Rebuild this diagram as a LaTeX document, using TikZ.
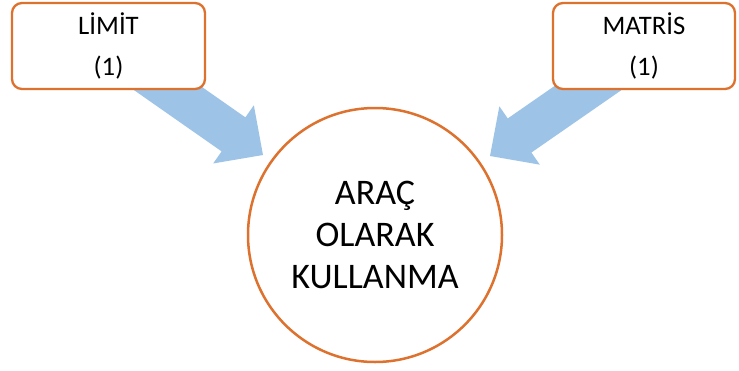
\documentclass[tikz,border=0pt]{standalone}
\usepackage{fontspec}
\setmainfont{Carlito}
\usetikzlibrary{calc,backgrounds}
\definecolor{edgeorange}{RGB}{221,113,46}
\definecolor{arrowblue}{RGB}{157,195,230}

% Block arrow from #1 to #2: shaft half-width #3, head half-width #4, head length #5
\newcommand{\blockarr}[5]{%
  \coordinate (ba-base) at ($(#2)!#5!(#1)$);
  \fill[arrowblue]
    ($(#1)!#3!90:(#2)$) -- ($(ba-base)!#3!-90:(#1)$) --
    ($(ba-base)!#4!-90:(#1)$) -- (#2) --
    ($(ba-base)!#4!90:(#1)$) -- ($(ba-base)!#3!90:(#1)$) --
    ($(#1)!#3!-90:(#2)$) -- cycle;
}

\tikzset{
  topicbox/.style={draw=edgeorange, line width=2.3pt, fill=white,
    rounded corners=10pt, minimum height=86pt, align=center,
    font=\fontsize{26.7}{41}\selectfont, inner sep=0pt},
  goal/.style={draw=edgeorange, line width=2.5pt, fill=white, circle,
    minimum size=254pt, align=center, inner sep=0pt,
    font=\fontsize{36}{42}\selectfont},
}

\begin{document}
\begin{tikzpicture}[x=1pt, y=-1pt]
  \useasboundingbox (0,0) rectangle (739,370);

  \node[topicbox, minimum width=193pt] (limit) at (108.5,46) {LİMİT\\(1)};
  \node[topicbox, minimum width=182pt] (matris) at (644,46) {MATRİS\\(1)};
  \node[goal] (arac) at (375,235) {ARAÇ\\OLARAK\\KULLANMA};

  % Arrow ends: start hidden under the boxes, tips short of the circle
  \coordinate (limit-out) at (135,65.5);
  \coordinate (limit-tip) at (263,155);
  \coordinate (matris-out) at (620.5,65.5);
  \coordinate (matris-tip) at (490,156);

  \begin{scope}[on background layer]
    \blockarr{limit-out}{limit-tip}{20.75pt}{35.5pt}{36pt}
    \blockarr{matris-out}{matris-tip}{20.75pt}{35.5pt}{36pt}
  \end{scope}
\end{tikzpicture}
\end{document}
